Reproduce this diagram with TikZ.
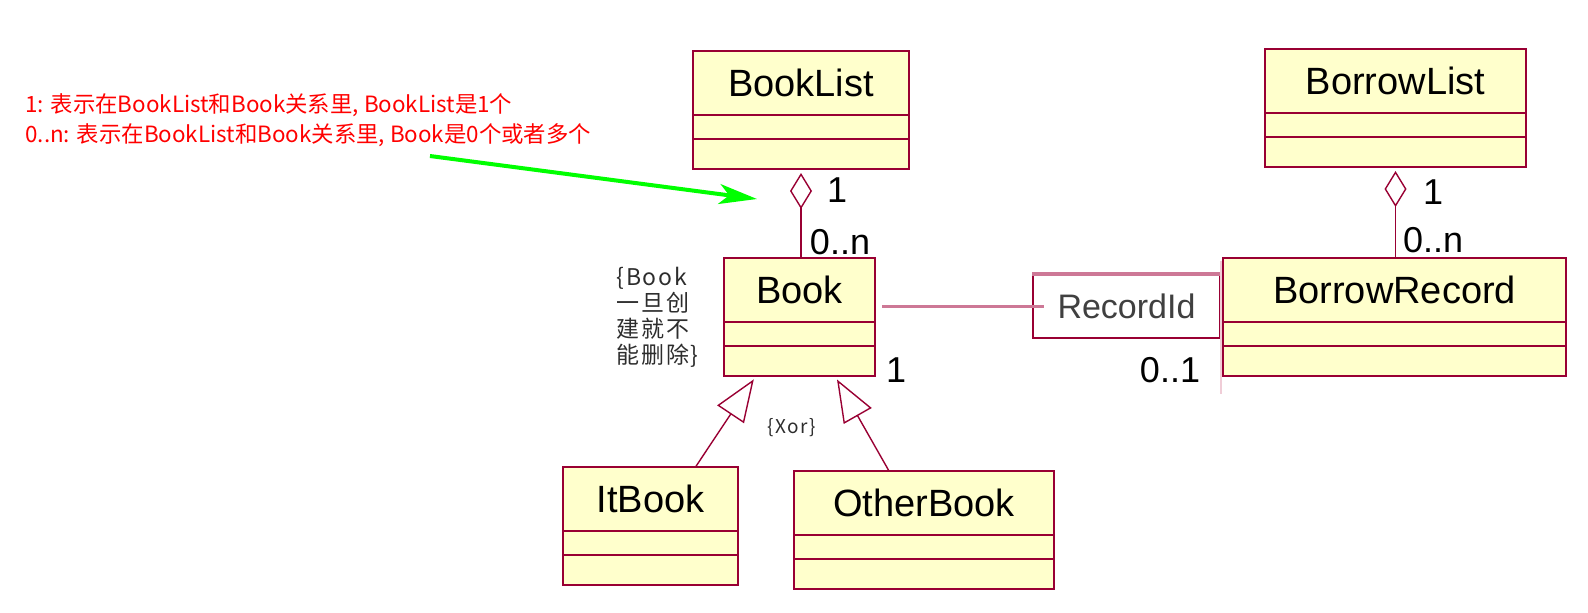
\documentclass[tikz,border=0pt]{standalone}
\usepackage{fontspec}
\usepackage{xcolor}
\setmainfont{Liberation Sans}
\newfontfamily\cjk{Noto Sans CJK SC}
\newfontfamily\cjknote[LetterSpace=8]{Noto Sans CJK SC}

\usetikzlibrary{shapes,arrows.meta,positioning}

\definecolor{umlred}{RGB}{153,0,51}
\definecolor{umlfill}{RGB}{255,255,204}
\definecolor{qpink}{RGB}{205,120,150}
\definecolor{qlight}{RGB}{240,205,215}
\definecolor{notegray}{RGB}{45,45,45}
\definecolor{hintgreen}{RGB}{0,255,0}

\begin{document}
\begin{tikzpicture}[x=0.5pt, y=-0.5pt,
    classname/.style={rectangle, draw=umlred, fill=umlfill, line width=1pt, outer sep=0pt, inner sep=0pt, minimum height=32pt, font=\fontsize{19}{22}\selectfont},
    classpart/.style={rectangle, draw=umlred, fill=umlfill, line width=1pt, outer sep=0pt, inner sep=0pt, minimum height=12pt},
    classlast/.style={classpart, minimum height=15pt},
    mult/.style={inner sep=0pt, font=\fontsize{18}{21}\selectfont},
    aggr/.style={draw=umlred, line width=0.7pt, arrows={{Diamond[open, length=18pt, width=11pt]}-}, shorten <=2pt},
    gen/.style={draw=umlred, line width=0.7pt, arrows={-{Triangle[open, length=21pt, width=16pt]}}, shorten >=2pt}]
    \useasboundingbox (0,0) rectangle (1588,612);

    \node (booklist) [classname, minimum width=108pt] at (801,83) {BookList};
    \node (booklist2) [classpart, minimum width=108pt, below=0pt of booklist] {};
    \node (booklist3) [classlast, minimum width=108pt, below=0pt of booklist2] {};

    \node (borrowlist) [classname, minimum width=130.5pt] at (1395.5,81) {BorrowList};
    \node (borrowlist2) [classpart, minimum width=130.5pt, below=0pt of borrowlist] {};
    \node (borrowlist3) [classlast, minimum width=130.5pt, below=0pt of borrowlist2] {};

    \node (book) [classname, minimum width=75.5pt] at (799.5,290) {Book};
    \node (book2) [classpart, minimum width=75.5pt, below=0pt of book] {};
    \node (book3) [classlast, minimum width=75.5pt, below=0pt of book2] {};

    \node (borrowrecord) [classname, minimum width=171.5pt] at (1394.5,290) {BorrowRecord};
    \node (borrowrecord2) [classpart, minimum width=171.5pt, below=0pt of borrowrecord] {};
    \node (borrowrecord3) [classlast, minimum width=171.5pt, below=0pt of borrowrecord2] {};

    \node (itbook) [classname, minimum width=87.5pt] at (650.5,499) {ItBook};
    \node (itbook2) [classpart, minimum width=87.5pt, below=0pt of itbook] {};
    \node (itbook3) [classlast, minimum width=87.5pt, below=0pt of itbook2] {};

    \node (otherbook) [classname, minimum width=130pt] at (924,503) {OtherBook};
    \node (otherbook2) [classpart, minimum width=130pt, below=0pt of otherbook] {};
    \node (otherbook3) [classlast, minimum width=130pt, below=0pt of otherbook2] {};

    \node (recid) [rectangle, draw=umlred, fill=white, line width=0.8pt, inner sep=0pt, minimum width=93.5pt, minimum height=31.5pt, text=black!75, font=\fontsize{17}{20}\selectfont] at (1126.5,306.5) {RecordId};
    \draw [qpink, line width=2pt] (recid.north west) -- (recid.north east);
    \draw [qlight, line width=0.8pt] ([yshift=6.5pt]recid.north east) -- ([yshift=-27.5pt]recid.south east);
    \draw [qpink, line width=1.6pt, shorten <=3.5pt, shorten >=-6pt] (book.east |- recid.west) -- (recid.west);

    \draw [aggr] (booklist3.south) -- (booklist3.south |- book.north);
    \draw [aggr] (borrowlist3.south) -- (borrowlist3.south |- borrowrecord.north);
    \draw [gen] ([xshift=22.5pt]itbook.north) -- ([xshift=-21.75pt]book3.south);
    \draw [gen] ([xshift=-17.5pt]otherbook.north) -- ([xshift=17.75pt]book3.south);

    \node (m1) [mult] at (837,190) {1};
    \node (m2) [mult] at (840,242) {0..n};
    \node (m3) [mult] at (1433,192) {1};
    \node (m4) [mult] at (1433,240) {0..n};
    \node (m5) [mult] at (896,370) {1};
    \node (m6) [mult] at (1170,370) {0..1};

    \node (note) [anchor=west, align=left, inner sep=0pt, text=notegray, font=\cjknote\fontsize{11.5}{13}\selectfont] at (616,317) {\{Book\\一旦创\\建就不\\能删除\}};
    \node (xor) [inner sep=0pt, text=notegray, font=\cjknote\fontsize{9.5}{11}\selectfont] at (792,428) {\{Xor\}};

    \node (hint) [anchor=west, align=left, inner sep=0pt, text=red, font=\cjk\fontsize{11.2}{15}\selectfont] at (25,120) {1: 表示在BookList和Book关系里, BookList是1个\\0..n: 表示在BookList和Book关系里, Book是0个或者多个};
    \coordinate (gstart) at (430,156);
    \coordinate (gend) at (757,199);
    \draw [hintgreen, line width=2pt, arrows={-Stealth[length=19pt, width=10pt, inset=5pt]}] (gstart) -- (gend);
\end{tikzpicture}
\end{document}
